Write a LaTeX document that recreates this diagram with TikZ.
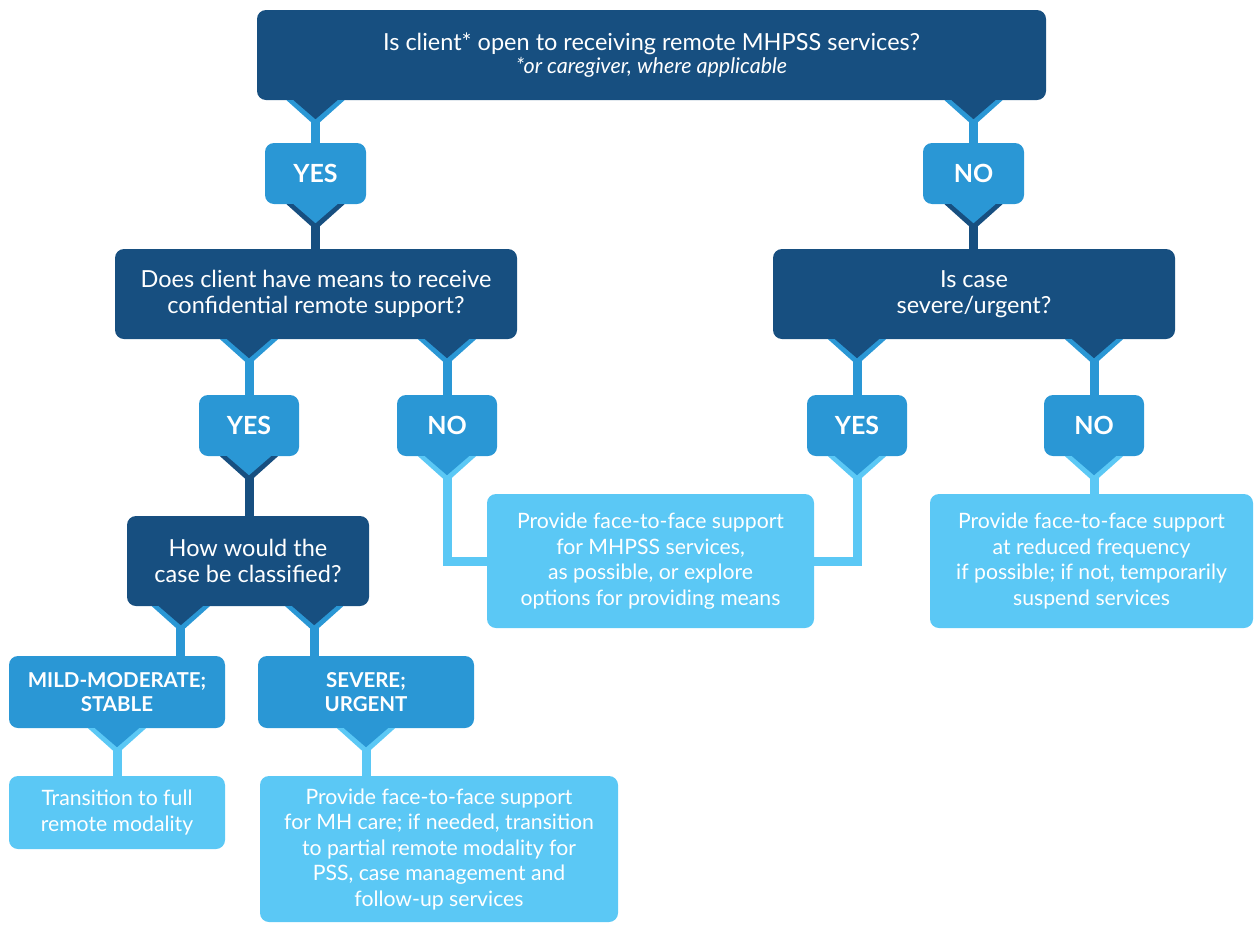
\documentclass[tikz,border=0pt]{standalone}
\usepackage{fontspec}
\setmainfont{Lato}
\usetikzlibrary{calc}
\definecolor{navy}{HTML}{174F80}
\definecolor{mid}{HTML}{2A97D5}
\definecolor{light}{HTML}{5BC8F5}
% pointer under a box: #1 x source, #2 box, #3 box colour, #4 band colour
\newcommand{\drop}[4]{%
  \fill[#4] ($(#1|-#2.south)+(-29,0)$) -- ++(29,26) -- ++(29,-26) -- cycle;
  \fill[#3] ($(#1|-#2.south)+(-22,0)$) -- ++(22,19) -- ++(22,-19) -- cycle;}

\begin{document}
\begin{tikzpicture}[x=1pt,y=-1pt,
    box/.style={rounded corners=9pt,text=white,align=center,inner sep=0pt},
    question/.style={box,fill=navy,font=\fontsize{23.5}{26}\selectfont},
    answer/.style={box,fill=mid,font=\fontsize{25}{28}\selectfont\bfseries},
    grade/.style={answer,font=\fontsize{20.5}{24}\selectfont\bfseries},
    action/.style={box,fill=light,font=\fontsize{21.2}{25.5}\selectfont},
    wire/.style={line width=9pt,draw=#1}]
    \useasboundingbox (0,0) rectangle (1255,924);
    % boxes
    \node[question,minimum width=789pt,minimum height=90pt] (q1) at (651.5,55)
        {Is client* open to receiving remote MHPSS services?\\[-3pt]
         {\fontsize{21.5}{24}\selectfont\itshape *or caregiver, where applicable}};
    \node[answer,minimum width=101pt,minimum height=61pt] (yes1) at (315.5,173.5) {YES};
    \node[answer,minimum width=101pt,minimum height=61pt] (no1) at (973.5,173.5) {NO};
    \node[question,minimum width=402pt,minimum height=90pt] (q2) at (316,294)
        {Does client have means to receive\\confidential remote support?};
    \node[question,minimum width=402pt,minimum height=90pt] (q4) at (974,294)
        {Is case\\severe/urgent?};
    \node[answer,minimum width=100pt,minimum height=61pt] (yes2) at (249,425.5) {YES};
    \node[answer,minimum width=100pt,minimum height=61pt] (no2) at (447,425.5) {NO};
    \node[answer,minimum width=100pt,minimum height=61pt] (yes3) at (857,425.5) {YES};
    \node[answer,minimum width=100pt,minimum height=61pt] (no3) at (1094,425.5) {NO};
    \node[question,minimum width=242pt,minimum height=90pt] (q3) at (248,561)
        {How would the\\case be classified?};
    \node[action,minimum width=327pt,minimum height=134pt] (act1) at (650.5,561)
        {Provide face-to-face support\\for MHPSS services,\\as possible, or explore\\
         options for providing means};
    \node[action,minimum width=323pt,minimum height=134pt] (act2) at (1091.5,561)
        {Provide face-to-face support\\at reduced frequency\\if possible; if not, temporarily\\
         suspend services};
    \node[grade,minimum width=216pt,minimum height=72pt] (mild) at (117,692)
        {MILD-MODERATE;\\STABLE};
    \node[grade,minimum width=216pt,minimum height=72pt] (severe) at (366,692)
        {SEVERE;\\URGENT};
    \node[action,minimum width=216pt,minimum height=73pt] (act3) at (117,812.5)
        {Transition to full\\remote modality};
    \node[action,minimum width=358pt,minimum height=146pt] (act4) at (439,849)
        {Provide face-to-face support\\for MH care; if needed, transition\\
         to partial remote modality for\\PSS, case management and\\follow-up services};
    \coordinate (pm) at ($(q3.south west)+(54,0)$);
    \coordinate (ps) at ($(q3.south east)+(-55,0)$);
    % connectors
    \draw[wire=mid] (yes1|-q1.south) -- (yes1.north);
    \draw[wire=mid] (no1|-q1.south) -- (no1.north);
    \draw[wire=navy] (yes1.south) -- (yes1|-q2.north);
    \draw[wire=navy] (no1.south) -- (no1|-q4.north);
    \draw[wire=mid] (yes2|-q2.south) -- (yes2.north);
    \draw[wire=mid] (no2|-q2.south) -- (no2.north);
    \draw[wire=mid] (yes3|-q4.south) -- (yes3.north);
    \draw[wire=mid] (no3|-q4.south) -- (no3.north);
    \draw[wire=navy] (yes2.south) -- (yes2|-q3.north);
    \draw[wire=light] (no2.south) |- (act1.west);
    \draw[wire=light] (yes3.south) |- (act1.east);
    \draw[wire=light] (no3.south) -- (no3|-act2.north);
    \draw[wire=mid] (pm|-q3.south) -- (pm|-mild.north);
    \draw[wire=mid] (ps|-q3.south) -- (ps|-severe.north);
    \draw[wire=light] (mild.south) -- (mild|-act3.north);
    \draw[wire=light] (severe.south) -- (severe|-act4.north);
    % pointers
    \drop{yes1}{q1}{navy}{mid}
    \drop{no1}{q1}{navy}{mid}
    \drop{yes1}{yes1}{mid}{navy}
    \drop{no1}{no1}{mid}{navy}
    \drop{yes2}{q2}{navy}{mid}
    \drop{no2}{q2}{navy}{mid}
    \drop{yes3}{q4}{navy}{mid}
    \drop{no3}{q4}{navy}{mid}
    \drop{yes2}{yes2}{mid}{navy}
    \drop{no2}{no2}{mid}{light}
    \drop{yes3}{yes3}{mid}{light}
    \drop{no3}{no3}{mid}{light}
    \drop{pm}{q3}{navy}{mid}
    \drop{ps}{q3}{navy}{mid}
    \drop{mild}{mild}{mid}{light}
    \drop{severe}{severe}{mid}{light}
\end{tikzpicture}
\end{document}
